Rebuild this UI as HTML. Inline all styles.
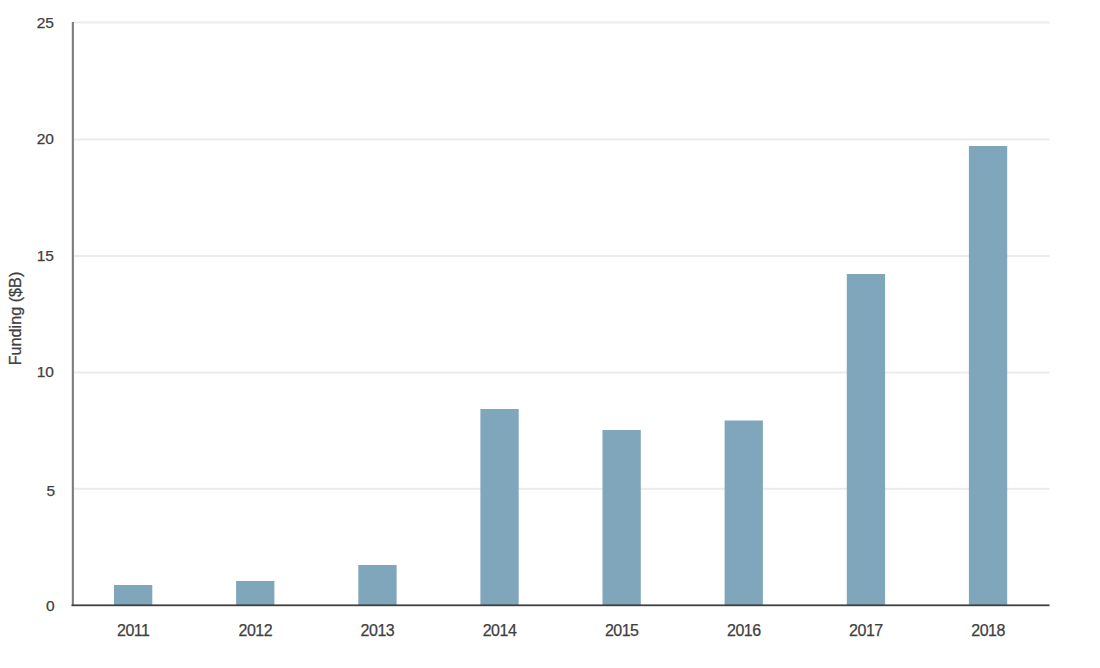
<!DOCTYPE html>
<html><head><meta charset="utf-8"><style>
html,body{margin:0;padding:0;background:#fff;width:1100px;height:668px;overflow:hidden}
svg{display:block}
.t{font-family:"Liberation Sans",sans-serif;font-size:15.5px;fill:#404040;stroke:#404040;stroke-width:0.25px}
</style></head><body>
<svg width="1100" height="668" viewBox="0 0 1100 668">
<rect x="73" y="21.5" width="976.5" height="2" fill="#ebebeb"/>
<rect x="73" y="138.5" width="976.5" height="2" fill="#ebebeb"/>
<rect x="73" y="255.0" width="976.5" height="2" fill="#ebebeb"/>
<rect x="73" y="371.5" width="976.5" height="2" fill="#ebebeb"/>
<rect x="73" y="487.8" width="976.5" height="2" fill="#ebebeb"/>
<rect x="114.0" y="585" width="38.3" height="20.3" fill="#7fa6bb"/>
<rect x="236.1" y="581" width="38.3" height="24.3" fill="#7fa6bb"/>
<rect x="358.3" y="565" width="38.3" height="40.3" fill="#7fa6bb"/>
<rect x="480.4" y="409" width="38.3" height="196.3" fill="#7fa6bb"/>
<rect x="602.5" y="430" width="38.3" height="175.3" fill="#7fa6bb"/>
<rect x="724.6" y="420.5" width="38.3" height="184.8" fill="#7fa6bb"/>
<rect x="846.8" y="274" width="38.3" height="331.3" fill="#7fa6bb"/>
<rect x="968.9" y="146" width="38.3" height="459.3" fill="#7fa6bb"/>
<rect x="71.8" y="22" width="2.1" height="584" fill="#7c7c7c"/>
<rect x="71.5" y="604.4" width="978" height="1.8" fill="#404040"/>
<text x="54" y="28.0" text-anchor="end" class="t">25</text>
<text x="54" y="144.0" text-anchor="end" class="t">20</text>
<text x="54" y="260.5" text-anchor="end" class="t">15</text>
<text x="54" y="377.0" text-anchor="end" class="t">10</text>
<text x="55" y="495.8" text-anchor="end" class="t">5</text>
<text x="54.7" y="610.8" text-anchor="end" class="t">0</text>
<text x="133.2" y="636" text-anchor="middle" class="t" style="font-size:16px;letter-spacing:-0.5px">2011</text>
<text x="255.3" y="636" text-anchor="middle" class="t" style="font-size:16px;letter-spacing:-0.5px">2012</text>
<text x="377.4" y="636" text-anchor="middle" class="t" style="font-size:16px;letter-spacing:-0.5px">2013</text>
<text x="499.5" y="636" text-anchor="middle" class="t" style="font-size:16px;letter-spacing:-0.5px">2014</text>
<text x="621.7" y="636" text-anchor="middle" class="t" style="font-size:16px;letter-spacing:-0.5px">2015</text>
<text x="743.8" y="636" text-anchor="middle" class="t" style="font-size:16px;letter-spacing:-0.5px">2016</text>
<text x="865.9" y="636" text-anchor="middle" class="t" style="font-size:16px;letter-spacing:-0.5px">2017</text>
<text x="988.1" y="636" text-anchor="middle" class="t" style="font-size:16px;letter-spacing:-0.5px">2018</text>
<text transform="translate(21,318.5) rotate(-90)" text-anchor="middle" class="t" style="font-size:16.2px">Funding ($B)</text>
</svg>
</body></html>
